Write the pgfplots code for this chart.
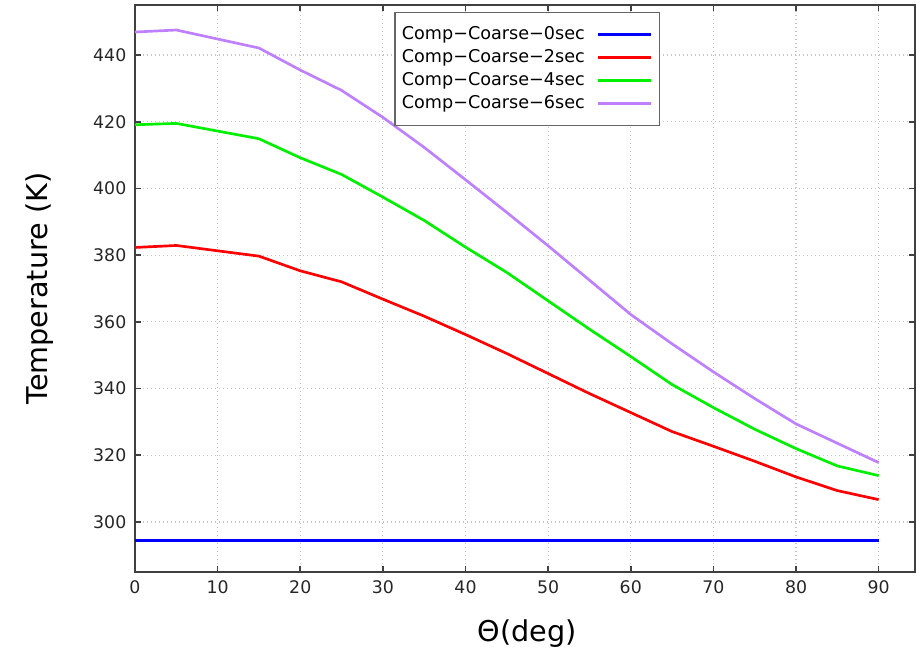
\documentclass[border=0pt]{standalone}
\usepackage{fontspec}
\setmainfont{DejaVu Sans}
\usepackage{pgfplots}
\pgfplotsset{compat=1.18}

\definecolor{cBlue}{RGB}{0,0,255}
\definecolor{cRed}{RGB}{255,0,0}
\definecolor{cGreen}{RGB}{0,240,0}
\definecolor{cPurple}{RGB}{190,128,255}

\begin{document}
\begin{tikzpicture}
% canvas: 1px = 0.75pt of the 916x650 reference
\useasboundingbox (-101.25pt,-58.5pt) rectangle (585.75pt,429pt);
\begin{axis}[
  scale only axis, width=585pt, height=425.25pt,
  at={(0,0)}, anchor=south west,
  xmin=0, xmax=94.4, ymin=285, ymax=455,
  xtick={0,10,...,90}, ytick={300,320,...,440},
  tick align=inside, tick pos=both,
  major tick length=4.5pt,
  every tick/.style={black!75, line width=1.2pt},
  axis line style={black!75, line width=1.5pt},
  grid=major,
  major grid style={gray!45, line width=0.8pt, dash pattern=on 1pt off 2pt},
  /pgf/number format/assume math mode=true,
  tick label style={font=\fontsize{13}{15}\selectfont, black!85},
  yticklabel style={xshift=-3pt},
  xticklabel style={yshift=-3pt},
  xlabel={Θ(deg)}, ylabel={Temperature (K)},
  label style={font=\fontsize{21.5}{24}\selectfont},
  xlabel style={at={(axis description cs:0.503,-0.109)}, anchor=center},
  ylabel style={at={(axis description cs:-0.122,0.5)}, anchor=center},
  legend plot pos=right,
  legend cell align=left,
  legend image code/.code={\draw[#1, line width=2pt] (0pt,0pt) -- (40pt,0pt);},
  legend style={at={(axis description cs:0.503,0.988)}, anchor=north,
    draw=black!60, line width=1.2pt, fill=white,
    font=\fontsize{13.2}{15}\selectfont,
    inner xsep=5pt, inner ysep=8pt, row sep=0pt,
    nodes={text height=10pt, text depth=3.2pt, inner ysep=2pt, inner xsep=0pt},
    /tikz/every odd column/.append style={column sep=9pt}},
  every axis plot/.append style={line width=2pt},
]
\addplot[cBlue] coordinates {(0,294.4) (90,294.4)};
\addlegendentry{Comp−Coarse−0sec}
\addplot[cRed] coordinates {
  (0,382.3) (5,382.9) (15,379.7) (20,375.3) (25,372.0) (30,366.8) (35,361.7)
  (40,356.2) (45,350.5) (50,344.5) (55,338.5) (60,332.8) (65,327.1) (70,322.7)
  (75,318.2) (80,313.5) (85,309.4) (90,306.7)};
\addlegendentry{Comp−Coarse−2sec}
\addplot[cGreen] coordinates {
  (0,419.1) (5,419.5) (15,414.9) (20,409.2) (25,404.2) (30,397.4) (35,390.4)
  (40,382.4) (45,374.8) (50,366.3) (55,357.8) (60,349.6) (65,341.2) (70,334.3)
  (75,327.8) (80,322.0) (85,316.8) (90,313.9)};
\addlegendentry{Comp−Coarse−4sec}
\addplot[cPurple] coordinates {
  (0,446.9) (5,447.5) (15,442.1) (20,435.5) (25,429.4) (30,421.3) (35,412.3)
  (40,402.6) (45,392.8) (50,382.8) (55,372.5) (60,362.2) (65,353.4) (70,345.0)
  (75,337.0) (80,329.4) (85,323.6) (90,317.8)};
\addlegendentry{Comp−Coarse−6sec}
\end{axis}
\end{tikzpicture}
\end{document}
